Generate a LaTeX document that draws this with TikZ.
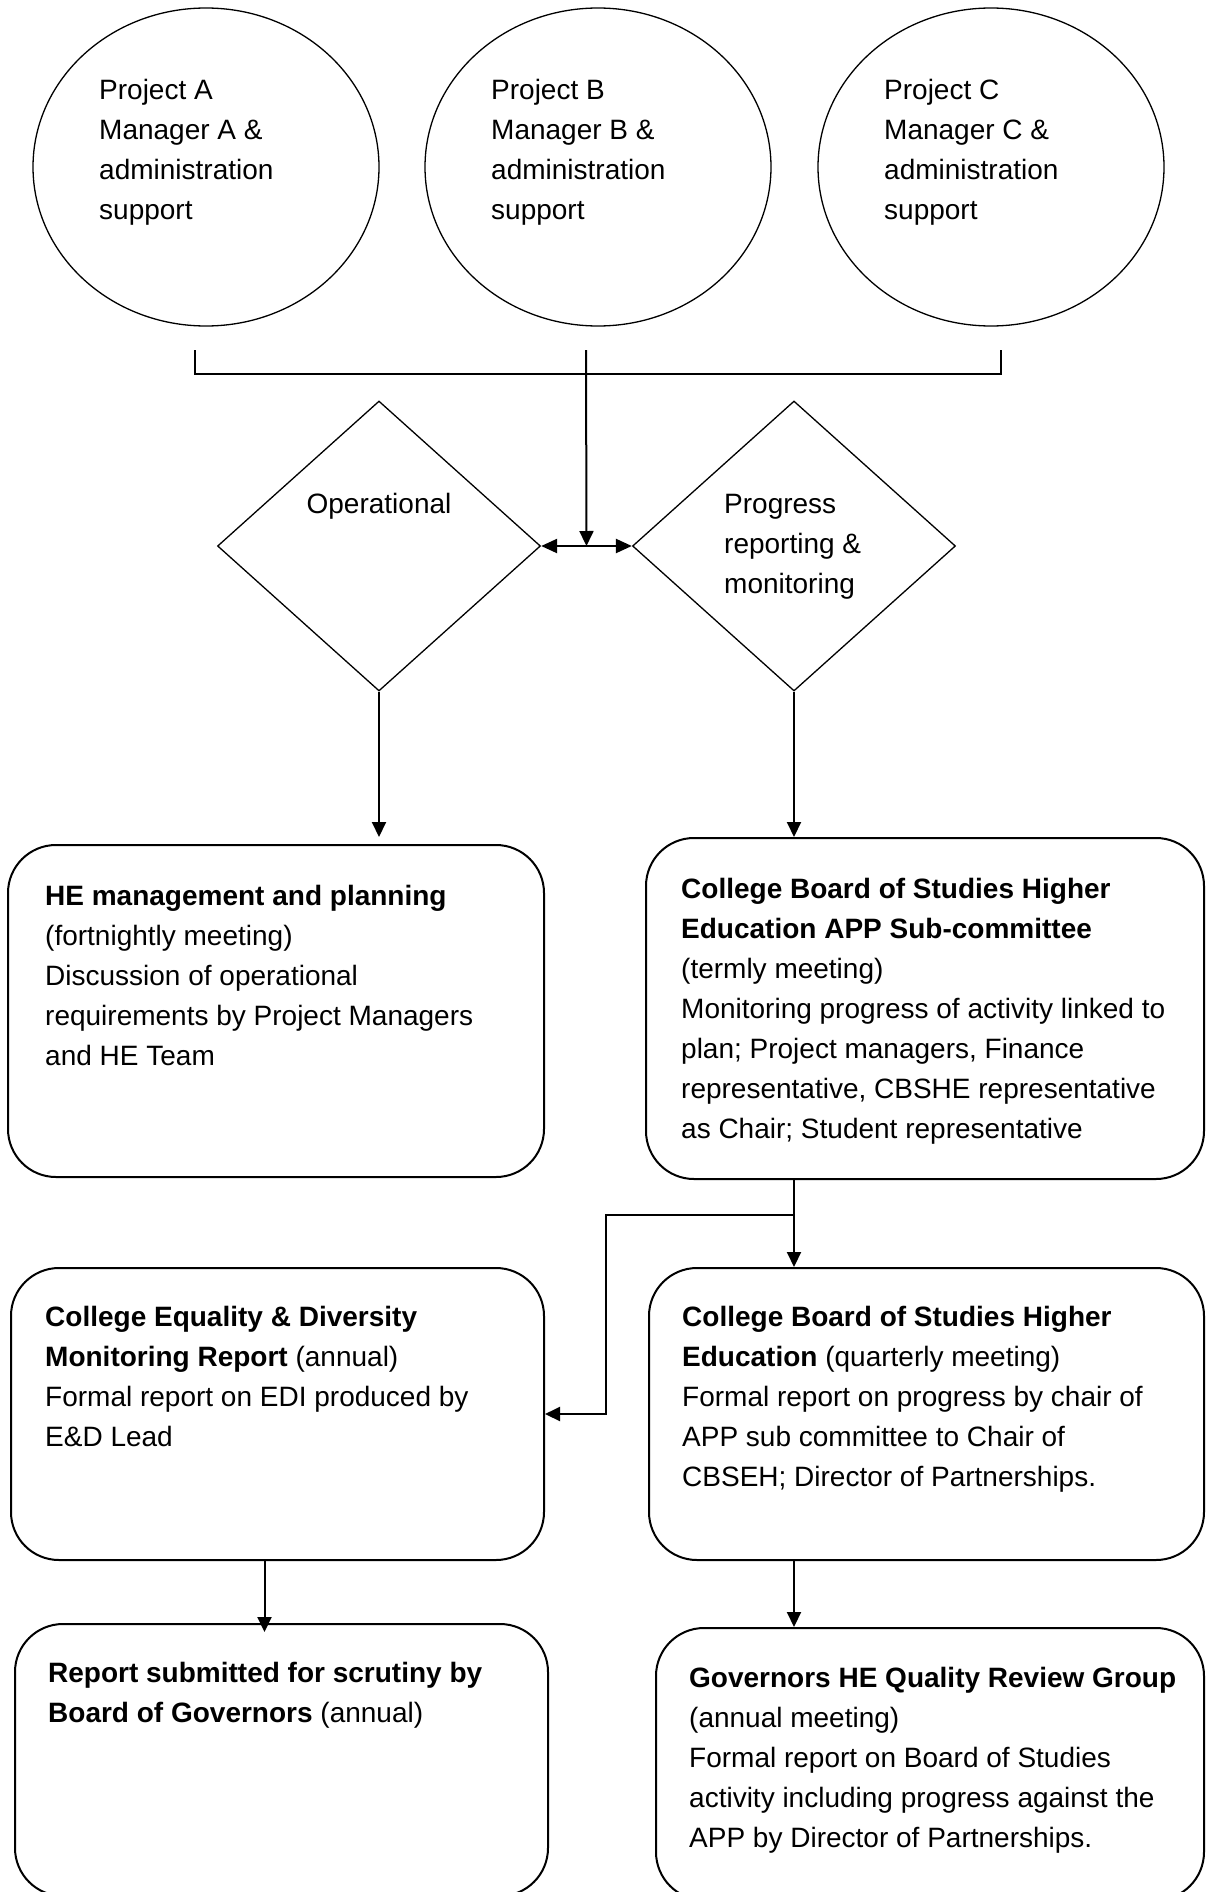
\documentclass[tikz,border=0pt]{standalone}
\usepackage{fontspec}
\setmainfont{Liberation Sans}
\usetikzlibrary{shapes.geometric,arrows.meta,calc}

\begin{document}
\begin{tikzpicture}[x=1pt,y=-1pt,
        proj/.style={draw,ellipse,line width=1.3pt,minimum width=346pt,minimum height=318pt,inner sep=0pt},
        flow/.style={draw,diamond,line width=1.3pt,minimum width=323pt,minimum height=290pt,inner sep=0pt},
        stage/.style={draw,rounded corners=48pt,line width=2pt,inner sep=0pt},
        txt/.style={anchor=north west,inner sep=0pt,align=left,font=\fontsize{28}{40}\selectfont,execute at begin node=\strut},
        arr/.style={line width=2pt,-{Triangle[length=15pt,width=14pt]}}]
        \useasboundingbox (0,0) rectangle (1205,1892);

        % projects and their managers
        \foreach \n/\x in {A/206,B/598,C/991}{
            \node[proj] (p\n) at (\x,167) {};
            \node[txt] (t\n) at (\x-107,79) {Project \n\\Manager \n{} \&\\administration\\support};
        }
        \coordinate (bl) at (195,350);
        \coordinate (bm) at (586,350);
        \coordinate (br) at (1001,350);
        \draw[line width=1.6pt] (bl) -- (bl |- 0,374) -- (br |- 0,374) -- (br);

        % the two routes
        \node[flow] (op) at (379,546) {};
        \node[flow] (pr) at (794,546) {};
        \node[txt,anchor=base] (top) at (379,513) {Operational};
        \node[txt] (tpr) at (724,494) {Progress\\reporting \&\\monitoring};
        \draw[line width=2.3pt,{Triangle[length=16pt,width=14pt]}-{Triangle[length=16pt,width=14pt]}] (op.east) -- (pr.west);
        \draw[arr] (bm) -- ($(op.east)!.5!(pr.west)$);

        % meetings and reports
        \node[stage,minimum width=536pt,minimum height=332pt] (hem) at (276,1011) {};
        \node[stage,minimum width=558pt,minimum height=341pt] (app) at (925,1008.5) {};
        \node[stage,minimum width=533pt,minimum height=292pt] (edi) at (277.5,1414) {};
        \node[stage,minimum width=555pt,minimum height=292pt] (cbs) at (926.5,1414) {};
        \node[stage,minimum width=533pt,minimum height=272pt] (rep) at (281.5,1760) {};
        \node[stage,minimum width=548pt,minimum height=272pt] (gov) at (930,1764) {};

        \node[txt] (them) at (45,885) {\textbf{HE management and planning}\\(fortnightly meeting)\\Discussion of operational\\requirements by Project Managers\\and HE Team};
        \node[txt] (tapp) at (681,878) {\textbf{College Board of Studies Higher}\\\textbf{Education APP Sub-committee}\\(termly meeting)\\Monitoring progress of activity linked to\\plan; Project managers, Finance\\representative, CBSHE representative\\as Chair; Student representative};
        \node[txt] (tedi) at (45,1306) {\textbf{College Equality \& Diversity}\\\textbf{Monitoring Report} (annual)\\Formal report on EDI produced by\\E\&D Lead};
        \node[txt] (tcbs) at (682,1306) {\textbf{College Board of Studies Higher}\\\textbf{Education} (quarterly meeting)\\Formal report on progress by chair of\\APP sub committee to Chair of\\CBSEH; Director of Partnerships.};
        \node[txt] (trep) at (48,1662) {\textbf{Report submitted for scrutiny by}\\\textbf{Board of Governors} (annual)};
        \node[txt] (tgov) at (689,1667) {\textbf{Governors HE Quality Review Group}\\(annual meeting)\\Formal report on Board of Studies\\activity including progress against the\\APP by Director of Partnerships.};

        \draw[arr] (op.south) -- (op.south |- app.north);
        \draw[arr] (pr.south) -- (app.north -| pr.south);
        \draw[arr] (app.south -| pr.south) -- (cbs.north -| pr.south);
        \coordinate (split) at ($(app.south -| pr.south)+(0,35)$);
        \draw[arr] (split) -- ++(-188,0) |- (edi.east);
        \draw[arr] ([xshift=-13pt]edi.south) -- ([xshift=-13pt,yshift=-9pt]edi.south |- rep.north);
        \draw[arr] (cbs.south -| pr.south) -- (gov.north -| pr.south);

\end{tikzpicture}
\end{document}
